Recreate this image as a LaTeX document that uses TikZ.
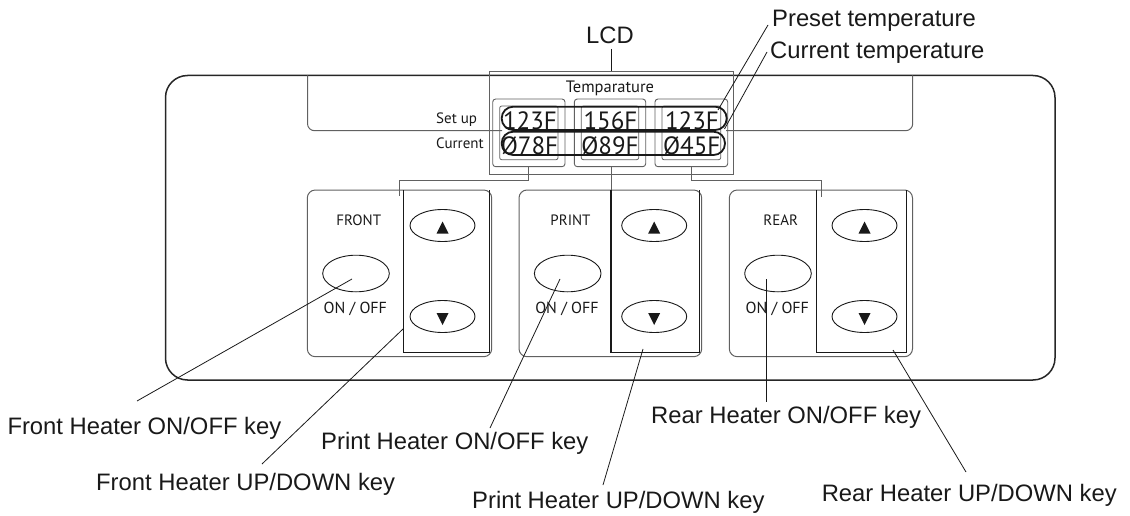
\documentclass[tikz,border=0pt]{standalone}
\usepackage{fontspec}
\setmainfont{Liberation Sans}
\newfontfamily\panfont{PT Sans}
\usetikzlibrary{shapes.geometric}
\begin{document}
\begin{tikzpicture}[x=1pt,y=-1pt,
  lbl/.style={font=\fontsize{23.8}{26}\selectfont, inner sep=0pt, anchor=base west, text=black!90},
  lead/.style={draw=black!90, line width=0.8pt},
  outerline/.style={draw=black!85, line width=1.5pt},
  grayline/.style={draw=black!62, line width=1pt},
  colline/.style={draw=black!90, line width=1.1pt},
  keyshape/.style={ellipse, draw=black!90, line width=0.9pt, inner sep=0pt},
  ovalline/.style={draw=black!90, line width=1.8pt, rounded corners=11.5pt},
  pantext/.style={font=\panfont\fontsize{15}{17}\selectfont, inner sep=0pt, anchor=base, text=black!90},
  digits/.style={font=\panfont\fontsize{25}{27}\selectfont, inner sep=0pt, anchor=base, text=black!90},
]
\useasboundingbox (0,0) rectangle (1130,516);

% outer panel
\draw[outerline, rounded corners=22pt] (165.5,75.5) rectangle (1055,380);

% display bar
\draw[grayline, rounded corners=7pt] (307.5,75.5) -- (307.5,130.7) -- (502,130.7);
\draw[grayline, rounded corners=7pt] (726,130.7) -- (912.7,130.7) -- (912.7,75.5);

% LCD box
\draw[grayline, line width=0.9pt] (489,71) rectangle (733.3,174);
\node[pantext, font=\panfont\fontsize{16.5}{18}\selectfont] (temp) at (610,92.5) {Temparature};

% tabs
\foreach \n/\a/\b in {t1/492.7/565, t2/574.3/645.7, t3/655/727.7}{
  \draw[grayline, line width=0.9pt, rounded corners=3pt] (\a,99) rectangle (\b,166.7);
  \draw[grayline, line width=0.8pt, rounded corners=2pt] ({\a+7},106) rectangle ({\b-7},159.7);
}

% value ovals
\draw[ovalline] (501.7,106.7) rectangle (726.7,130);
\draw[ovalline] (501.7,131.7) rectangle (725,155);

\node[pantext, anchor=base west] (setup) at (436,124) {Set up};
\node[pantext, anchor=base west] (curr) at (436,148.3) {Current};

\node[digits] (s1) at (530,130) {123F};
\node[digits] (s2) at (610.5,130) {156F};
\node[digits] (s3) at (692,130) {123F};
\node[digits] (c1) at (529.5,154) {Ø78F};
\node[digits] (c2) at (610,154) {Ø89F};
\node[digits] (c3) at (691.7,154) {Ø45F};

% connections tabs -> key panels
\coordinate (t1b) at (528,166.7);
\coordinate (t2b) at (611,166.7);
\coordinate (t3b) at (691.7,166.7);
\coordinate (fcol) at (399.5,196);
\coordinate (pcol) at (611,190);
\coordinate (rcol) at (821,197);
\draw[grayline, line width=0.9pt] (t1b) |- (399.5,180) -- (fcol);
\draw[grayline, line width=0.9pt] (t2b) -- (pcol);
\draw[grayline, line width=0.9pt] (t3b) |- (821,180) -- (rcol);

% key panels
\foreach \n/\L/\R/\CL/\CR/\T in {f/307.3/491.7/403.3/489.7/FRONT, p/519/701.7/611/699.7/PRINT, r/729.3/912.5/816.7/906.5/REAR}{
  \draw[grayline, rounded corners=8pt] (\L,190) rectangle (\R,356.7);
  \draw[colline] (\CL,190) -- (\CL,352.7) -- (\CR,352.7) -- (\CR,190);
  \node[pantext] (\n lab) at ({\L+51.5},225) {\T};
  \node[keyshape, minimum width=66.6pt, minimum height=36.6pt] (\n onoff) at ({\L+48.7},273.5) {};
  \node[pantext, font=\panfont\fontsize{16}{18}\selectfont] (\n oo) at ({\L+48},313.3) {ON / OFF};
  \node[keyshape, minimum width=65pt, minimum height=32pt] (\n up) at ({\L+135.2},225.5) {};
  \node[keyshape, minimum width=65pt, minimum height=32pt] (\n dn) at ({\L+135.2},316.5) {};
  \fill[black!90] ({\L+135.2-6},233.5) -- ({\L+135.2+6},233.5) -- ({\L+135.2},221.5) -- cycle;
  \fill[black!90] ({\L+135.2-6},313) -- ({\L+135.2+6},313) -- ({\L+135.2},325) -- cycle;
}

% top labels
\node[lbl, anchor=base] (lcd) at (610,44) {LCD};
\coordinate (lcdtop) at (611.7,71);
\draw[lead] (611.7,49) -- (lcdtop);

\node[lbl] (preset) at (772,27) {Preset temperature};
\node[lbl] (current) at (770,59) {Current temperature};
\coordinate (presetA) at (768,25);
\coordinate (presetB) at (718,110);
\coordinate (currA) at (767,52);
\coordinate (currB) at (724.5,129);
\draw[lead] (presetA) -- (presetB);
\draw[lead] (currA) -- (currB);

% bottom labels
\node[lbl] (lfon) at (7.3,434) {Front Heater ON/OFF key};
\node[lbl] (lpon) at (321,449) {Print Heater ON/OFF key};
\node[lbl] (lron) at (651,423) {Rear Heater ON/OFF key};
\node[lbl] (lfud) at (96,490) {Front Heater UP/DOWN key};
\node[lbl] (lpud) at (472,508) {Print Heater UP/DOWN key};
\node[lbl] (lrud) at (821.6,501) {Rear Heater UP/DOWN key};

\coordinate (fonA) at (352,279);  \coordinate (fonB) at (137,401);
\coordinate (fudA) at (403,329);  \coordinate (fudB) at (262,464);
\coordinate (ponA) at (560,279);  \coordinate (ponB) at (490,428);
\coordinate (pudA) at (643,349);  \coordinate (pudB) at (603,485);
\coordinate (ronA) at (766.5,279); \coordinate (ronB) at (766.5,402);
\coordinate (rudA) at (893,350);  \coordinate (rudB) at (966,472);
\draw[lead] (fonA) -- (fonB);
\draw[lead] (fudA) -- (fudB);
\draw[lead] (ponA) -- (ponB);
\draw[lead] (pudA) -- (pudB);
\draw[lead] (ronA) -- (ronB);
\draw[lead] (rudA) -- (rudB);
\end{tikzpicture}
\end{document}
